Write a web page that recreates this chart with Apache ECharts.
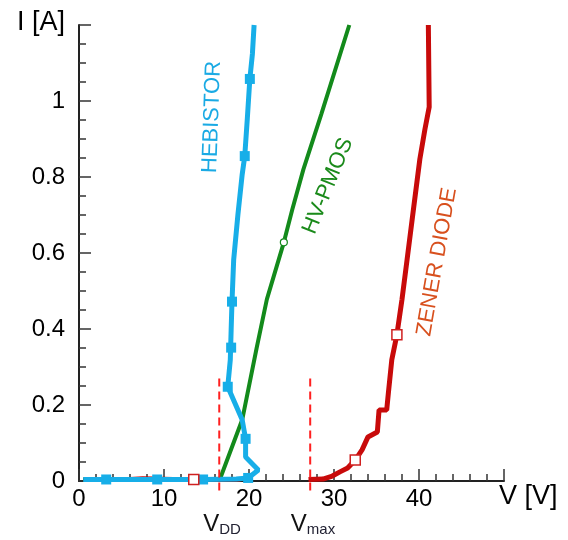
<!DOCTYPE html>
<html>
<head>
<meta charset="utf-8">
<script src="https://cdn.jsdelivr.net/npm/echarts@6/dist/echarts.min.js"></script>
<style>
  html, body { margin: 0; padding: 0; background: #fff; }
  #chart { width: 568px; height: 540px; }
</style>
</head>
<body>
<div id="chart"></div>
<script>
// curves: voltage [V] and current [A]
const hebistorV = [0.5, 3.2, 9.2, 14.6, 18.5, 19.9, 21.1, 19.6, 19.6, 19.2, 17.5, 17.8, 17.9, 18.0, 18.2, 18.7, 19.2, 19.5, 19.8, 20.1, 20.4, 20.6];
const hebistorI = [0.004, 0.004, 0.004, 0.004, 0.005, 0.008, 0.029, 0.063, 0.111, 0.161, 0.248, 0.319, 0.398, 0.472, 0.583, 0.702, 0.807, 0.855, 0.953, 1.058, 1.124, 1.2];
const hebistorMarkV = [3.2, 9.2, 14.6, 19.9, 19.6, 17.5, 17.9, 18.0, 19.5, 20.1];
const hebistorMarkI = [0.004, 0.004, 0.004, 0.008, 0.111, 0.248, 0.351, 0.472, 0.855, 1.058];

const pmosV = [0.5, 5, 10, 14, 16.6, 19.2, 20.9, 22.1, 24.1, 25.1, 26.4, 28.5, 31.8];
const pmosI = [0.004, 0.004, 0.004, 0.004, 0.006, 0.161, 0.35, 0.478, 0.628, 0.715, 0.82, 0.965, 1.2];
const pmosMarkV = [24.1];
const pmosMarkI = [0.628];

// zener leakage below the blue trace, then the breakdown branch
const zenerLeakV = [0.5, 5, 7.5, 13.5, 19];
const zenerLeakI = [0.004, 0.004, 0.007, 0.004, 0.004];
const zenerV = [27.0, 28.7, 29.8, 30.7, 31.6, 32.5, 33.3, 34.0, 35.1, 35.3, 36.2, 36.4, 36.8, 37.4, 38.0, 38.6, 39.2, 40.1, 40.7, 41.2, 41.1];
const zenerI = [0.004, 0.005, 0.013, 0.024, 0.034, 0.055, 0.082, 0.116, 0.129, 0.187, 0.187, 0.232, 0.319, 0.385, 0.478, 0.583, 0.689, 0.847, 0.926, 0.984, 1.2];
const zenerMarkV = [13.5, 32.5, 37.4];
const zenerMarkI = [0.004, 0.055, 0.385];

// dashed supply limits
const vddV = 16.5;
const vmaxV = 27.2;
const limitI = [-0.025, 0.272];

const xTicks = [0, 10, 20, 30, 40, 50];
const yTicks = [0, 0.2, 0.4, 0.6, 0.8, 1, 1.2];

const FONT = '"Liberation Sans", Arial, sans-serif';
const pairs = (xs, ys) => xs.map((x, i) => [x, ys[i]]);

const chart = echarts.init(document.getElementById('chart'));

const axisCommon = {
    type: 'value',
    axisLine: { show: true, lineStyle: { color: '#222', width: 2 } },
    axisTick: { show: true, inside: true, length: 12, lineStyle: { color: '#333', width: 1.5 } },
    minorTick: { show: true, length: 7, lineStyle: { color: '#333', width: 1.5 } },
    splitLine: { show: false }
};

const limitLine = (v) => ({
    type: 'line',
    data: limitI.map(i => [v, i]),
    symbol: 'none',
    clip: false,
    silent: true,
    z: 5,
    lineStyle: { color: '#ff2020', width: 2, type: [8, 5] }
});

const subLabel = (x, sub) => ({
    type: 'text', x: x, y: 524,
    style: {
        text: '{v|V}{s|' + sub + '}', textAlign: 'center', textVerticalAlign: 'middle',
        rich: {
            v: { fontSize: 24, fontFamily: FONT, fill: '#111' },
            s: { fontSize: 15, fontFamily: FONT, fill: '#223', padding: [12, 0, 0, 0] }
        }
    }
});

chart.setOption({
    animation: false,
    grid: { left: 79, right: 64, top: 25, bottom: 59 },
    xAxis: Object.assign({}, axisCommon, {
        min: xTicks[0],
        max: xTicks[xTicks.length - 1],
        interval: 10,
        minorTick: Object.assign({}, axisCommon.minorTick, { splitNumber: 5 }),
        axisLabel: {
            fontSize: 24, fontFamily: FONT, color: '#000', margin: 6,
            formatter: v => (v === xTicks[xTicks.length - 1] ? '' : String(v))
        }
    }),
    yAxis: Object.assign({}, axisCommon, {
        min: yTicks[0],
        max: yTicks[yTicks.length - 1],
        interval: 0.2,
        minorTick: Object.assign({}, axisCommon.minorTick, { splitNumber: 4 }),
        axisLabel: {
            fontSize: 24, fontFamily: FONT, color: '#000', margin: 14,
            formatter: v => (v > 1.19 ? '{n|I [A]}' : String(Math.round(v * 10) / 10)),
            rich: { n: { fontSize: 27, fontFamily: FONT, color: '#000', padding: [0, 0, 4, 0] } }
        }
    }),
    series: [
        {
            type: 'line', data: pairs(zenerLeakV, zenerLeakI), symbol: 'none', z: 2,
            lineStyle: { color: '#c80a0a', width: 4 }
        },
        {
            type: 'line', data: pairs(zenerV, zenerI), symbol: 'none', z: 2,
            lineStyle: { color: '#c80a0a', width: 5 }
        },
        {
            type: 'line', data: pairs(pmosV, pmosI), symbol: 'none', z: 3,
            lineStyle: { color: '#138a1b', width: 4 }
        },
        {
            type: 'line', data: pairs(hebistorV, hebistorI), symbol: 'none', z: 4,
            lineStyle: { color: '#17aee8', width: 5 }
        },
        {
            type: 'scatter', data: pairs(hebistorMarkV, hebistorMarkI), symbol: 'rect', symbolSize: 10, z: 6,
            itemStyle: { color: '#17aee8', opacity: 1 }
        },
        {
            type: 'scatter', data: pairs(zenerMarkV, zenerMarkI), symbol: 'rect', symbolSize: 10, z: 7,
            itemStyle: { color: '#fff', borderColor: '#d02020', borderWidth: 1.5, opacity: 1 }
        },
        {
            type: 'scatter', data: pairs(pmosMarkV, pmosMarkI), symbol: 'circle', symbolSize: 7, z: 7,
            itemStyle: { color: '#fff', borderColor: '#138a1b', borderWidth: 1.2, opacity: 1 }
        },
        limitLine(vddV),
        limitLine(vmaxV)
    ],
    graphic: [
        {
            type: 'text', x: 212, y: 117, rotation: 88 * Math.PI / 180,
            style: { text: 'HEBISTOR', font: '22px ' + FONT, fill: '#1aaae4', textAlign: 'center', textVerticalAlign: 'middle' }
        },
        {
            type: 'text', x: 328, y: 186, rotation: 68 * Math.PI / 180,
            style: { text: 'HV-PMOS', font: '22px ' + FONT, fill: '#1a8a1a', textAlign: 'center', textVerticalAlign: 'middle' }
        },
        {
            type: 'text', x: 437, y: 262, rotation: 80 * Math.PI / 180,
            style: { text: 'ZENER DIODE', font: '22px ' + FONT, fill: '#d8501e', textAlign: 'center', textVerticalAlign: 'middle' }
        },
        {
            type: 'text', x: 499, y: 483,
            style: { text: 'V [V]', font: '27px ' + FONT, fill: '#000', textAlign: 'left', textVerticalAlign: 'top' }
        },
        subLabel(222, 'DD'),
        subLabel(313, 'max')
    ]
});
</script>
</body>
</html>
